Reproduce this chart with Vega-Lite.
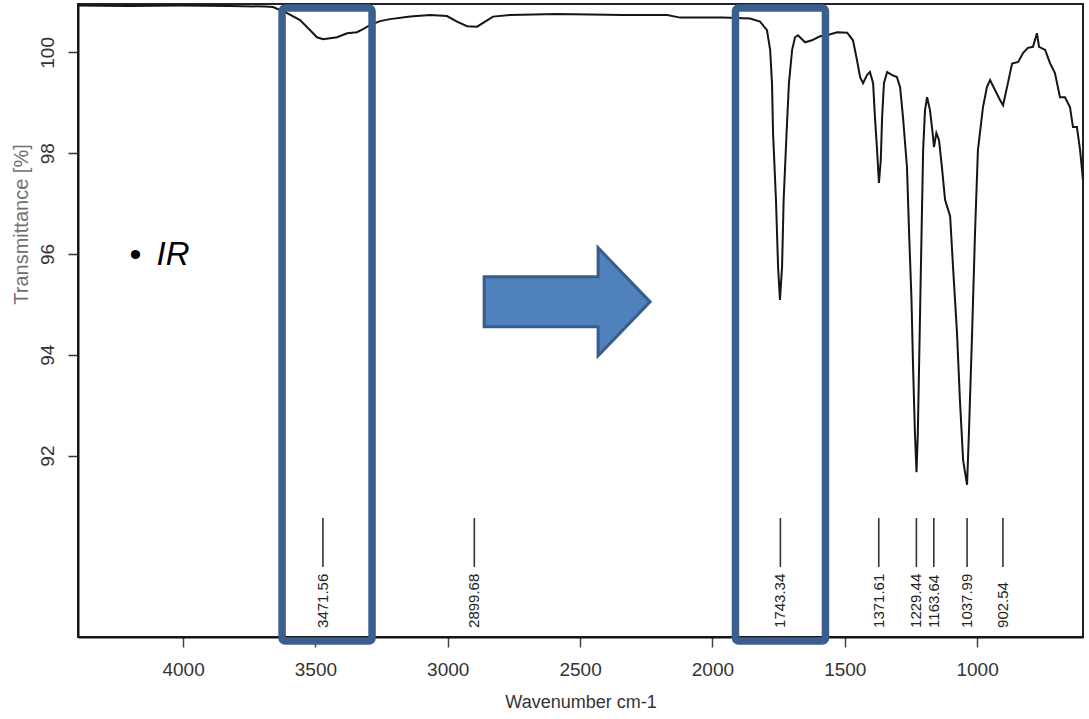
{
  "$schema": "https://vega.github.io/schema/vega-lite/v6.json",
  "autosize": "none",
  "width": 1005,
  "height": 633,
  "padding": {"left": 78, "top": 4, "right": 6, "bottom": 82},
  "background": "white",
  "config": {
    "view": {"stroke": "#222", "strokeWidth": 2},
    "font": "Liberation Sans"
  },
  "datasets": {
    "spectrum": [
      {"wn": 4397, "t": 100.93}, {"wn": 4200, "t": 100.92}, {"wn": 4011, "t": 100.93}, {"wn": 3822, "t": 100.92},
      {"wn": 3690, "t": 100.91}, {"wn": 3660, "t": 100.9}, {"wn": 3607, "t": 100.78}, {"wn": 3558, "t": 100.64},
      {"wn": 3520, "t": 100.44}, {"wn": 3494, "t": 100.3}, {"wn": 3471, "t": 100.26}, {"wn": 3418, "t": 100.3},
      {"wn": 3380, "t": 100.38}, {"wn": 3343, "t": 100.4}, {"wn": 3320, "t": 100.46}, {"wn": 3294, "t": 100.54},
      {"wn": 3256, "t": 100.62}, {"wn": 3218, "t": 100.66}, {"wn": 3142, "t": 100.71}, {"wn": 3067, "t": 100.74},
      {"wn": 3003, "t": 100.72}, {"wn": 2965, "t": 100.61}, {"wn": 2927, "t": 100.52}, {"wn": 2889, "t": 100.51},
      {"wn": 2859, "t": 100.61}, {"wn": 2829, "t": 100.71}, {"wn": 2765, "t": 100.74}, {"wn": 2587, "t": 100.76},
      {"wn": 2338, "t": 100.74}, {"wn": 2171, "t": 100.74}, {"wn": 2122, "t": 100.69}, {"wn": 1960, "t": 100.69},
      {"wn": 1858, "t": 100.67}, {"wn": 1820, "t": 100.61}, {"wn": 1794, "t": 100.44}, {"wn": 1782, "t": 100.05},
      {"wn": 1775, "t": 99.39}, {"wn": 1771, "t": 98.4}, {"wn": 1760, "t": 97.07}, {"wn": 1752, "t": 95.74},
      {"wn": 1745, "t": 95.09}, {"wn": 1737, "t": 95.74}, {"wn": 1731, "t": 97.07}, {"wn": 1720, "t": 98.4},
      {"wn": 1711, "t": 99.39}, {"wn": 1699, "t": 100.05}, {"wn": 1688, "t": 100.3}, {"wn": 1677, "t": 100.34},
      {"wn": 1650, "t": 100.2}, {"wn": 1624, "t": 100.24}, {"wn": 1594, "t": 100.32}, {"wn": 1567, "t": 100.34},
      {"wn": 1529, "t": 100.4}, {"wn": 1491, "t": 100.39}, {"wn": 1469, "t": 100.24}, {"wn": 1454, "t": 99.85},
      {"wn": 1442, "t": 99.51}, {"wn": 1431, "t": 99.39}, {"wn": 1416, "t": 99.55}, {"wn": 1405, "t": 99.61},
      {"wn": 1393, "t": 99.39}, {"wn": 1386, "t": 98.71}, {"wn": 1378, "t": 98.06}, {"wn": 1371, "t": 97.41},
      {"wn": 1364, "t": 97.86}, {"wn": 1359, "t": 98.71}, {"wn": 1352, "t": 99.39}, {"wn": 1340, "t": 99.61},
      {"wn": 1321, "t": 99.55}, {"wn": 1303, "t": 99.51}, {"wn": 1291, "t": 99.31}, {"wn": 1280, "t": 98.71},
      {"wn": 1265, "t": 97.72}, {"wn": 1257, "t": 96.41}, {"wn": 1248, "t": 95.09}, {"wn": 1242, "t": 93.76},
      {"wn": 1235, "t": 92.45}, {"wn": 1229, "t": 91.67}, {"wn": 1224, "t": 92.45}, {"wn": 1217, "t": 94.43},
      {"wn": 1210, "t": 96.41}, {"wn": 1204, "t": 98.06}, {"wn": 1197, "t": 98.85}, {"wn": 1189, "t": 99.11},
      {"wn": 1178, "t": 98.85}, {"wn": 1168, "t": 98.4}, {"wn": 1163, "t": 98.12}, {"wn": 1154, "t": 98.4},
      {"wn": 1144, "t": 98.26}, {"wn": 1133, "t": 97.72}, {"wn": 1121, "t": 97.07}, {"wn": 1102, "t": 96.75},
      {"wn": 1091, "t": 95.74}, {"wn": 1076, "t": 94.43}, {"wn": 1065, "t": 93.1}, {"wn": 1053, "t": 91.91},
      {"wn": 1038, "t": 91.42}, {"wn": 1031, "t": 92.45}, {"wn": 1019, "t": 94.43}, {"wn": 1008, "t": 96.41},
      {"wn": 997, "t": 98.06}, {"wn": 978, "t": 98.91}, {"wn": 963, "t": 99.31}, {"wn": 951, "t": 99.45},
      {"wn": 932, "t": 99.25}, {"wn": 913, "t": 99.05}, {"wn": 902, "t": 98.95}, {"wn": 887, "t": 99.31},
      {"wn": 868, "t": 99.78}, {"wn": 845, "t": 99.81}, {"wn": 826, "t": 99.99}, {"wn": 808, "t": 100.09},
      {"wn": 789, "t": 100.11}, {"wn": 774, "t": 100.38}, {"wn": 766, "t": 100.11}, {"wn": 743, "t": 100.05},
      {"wn": 725, "t": 99.79}, {"wn": 706, "t": 99.59}, {"wn": 687, "t": 99.11}, {"wn": 668, "t": 99.11},
      {"wn": 649, "t": 98.91}, {"wn": 638, "t": 98.52}, {"wn": 623, "t": 98.52}, {"wn": 611, "t": 98.06},
      {"wn": 600, "t": 97.46}
    ],
    "peaks": [
      {"wn": 3471.56, "label": "3471.56"},
      {"wn": 2899.68, "label": "2899.68"},
      {"wn": 1743.34, "label": "1743.34"},
      {"wn": 1371.61, "label": "1371.61"},
      {"wn": 1229.44, "label": "1229.44"},
      {"wn": 1163.64, "label": "1163.64"},
      {"wn": 1037.99, "label": "1037.99"},
      {"wn": 902.54, "label": "902.54"}
    ],
    "boxes": [
      {"from": 3626, "to": 3286},
      {"from": 1913, "to": 1573}
    ],
    "note": [{"label": "IR"}]
  },
  "layer": [
    {
      "data": {"name": "spectrum"},
      "mark": {"type": "line", "color": "#151515", "strokeWidth": 2, "interpolate": "linear"},
      "encoding": {
        "x": {
          "field": "wn", "type": "quantitative",
          "scale": {"domain": [4397, 600], "nice": false, "zero": false},
          "axis": {
            "values": [4000, 3500, 3000, 2500, 2000, 1500, 1000],
            "format": "d",
            "grid": false,
            "domainColor": "#111", "domainWidth": 2,
            "tickColor": "#444", "tickWidth": 1.5, "tickSize": 10,
            "labelFontSize": 19, "labelColor": "#333", "labelPadding": 13, "labelFont": "Liberation Sans",
            "title": "Wavenumber cm-1", "titleFontSize": 18, "titleFontWeight": "normal",
            "titleColor": "#333", "titleFont": "Liberation Sans", "titleY": 70, "titleBaseline": "alphabetic"
          }
        },
        "y": {
          "field": "t", "type": "quantitative",
          "scale": {"domain": [88.4, 100.96], "nice": false, "zero": false},
          "axis": {
            "values": [92, 94, 96, 98, 100],
            "grid": false,
            "domainColor": "#111", "domainWidth": 2,
            "tickColor": "#333", "tickWidth": 1.5, "tickSize": 10,
            "labelAngle": 270, "labelAlign": "center", "labelBaseline": "alphabetic",
            "labelFontSize": 19, "labelColor": "#333", "labelPadding": 15, "labelFont": "Liberation Sans",
            "title": "Transmittance [%]", "titleFontSize": 20, "titleFontWeight": "normal",
            "titleColor": "#707070", "titleFont": "Liberation Sans", "titleAngle": 270,
            "titleAlign": "center", "titleBaseline": "alphabetic", "titleX": -51, "titleY": 220
          }
        }
      }
    },
    {
      "data": {"name": "peaks"},
      "mark": {"type": "rule", "color": "#333", "strokeWidth": 1.6},
      "encoding": {
        "x": {"field": "wn", "type": "quantitative"},
        "y": {"datum": 89.79},
        "y2": {"datum": 90.76}
      }
    },
    {
      "data": {"name": "peaks"},
      "mark": {"type": "text", "angle": 270, "align": "left", "baseline": "middle", "fontSize": 15, "color": "#222", "font": "Liberation Sans"},
      "encoding": {
        "x": {"field": "wn", "type": "quantitative"},
        "y": {"datum": 88.58},
        "text": {"field": "label"}
      }
    },
    {
      "data": {"name": "boxes"},
      "mark": {"type": "rect", "fill": "white", "fillOpacity": 0, "stroke": "#3A5F8E", "strokeWidth": 7.5, "cornerRadius": 3},
      "encoding": {
        "x": {"field": "from", "type": "quantitative"},
        "x2": {"field": "to"},
        "y": {"datum": 88.32},
        "y2": {"datum": 100.88}
      }
    },
    {
      "data": {"name": "note"},
      "mark": {
        "type": "point",
        "shape": "M-1,-0.301 L0.373,-0.301 L0.373,-0.651 L1,0 L0.373,0.651 L0.373,0.301 L-1,0.301 Z",
        "size": 27556, "filled": true, "fill": "#4F81BD", "stroke": "#385D8A", "strokeWidth": 3, "opacity": 1
      },
      "encoding": {
        "x": {"datum": 2549},
        "y": {"datum": 95.05}
      }
    },
    {
      "data": {"name": "note"},
      "mark": {"type": "text", "align": "center", "baseline": "middle", "fontSize": 34, "color": "#000", "font": "Liberation Sans"},
      "encoding": {
        "x": {"datum": 4180},
        "y": {"datum": 95.96},
        "text": {"value": "•"}
      }
    },
    {
      "data": {"name": "note"},
      "mark": {"type": "text", "align": "left", "baseline": "alphabetic", "fontSize": 33, "fontStyle": "italic", "color": "#000", "font": "Liberation Sans"},
      "encoding": {
        "x": {"datum": 4100},
        "y": {"datum": 95.78},
        "text": {"field": "label"}
      }
    }
  ]
}
